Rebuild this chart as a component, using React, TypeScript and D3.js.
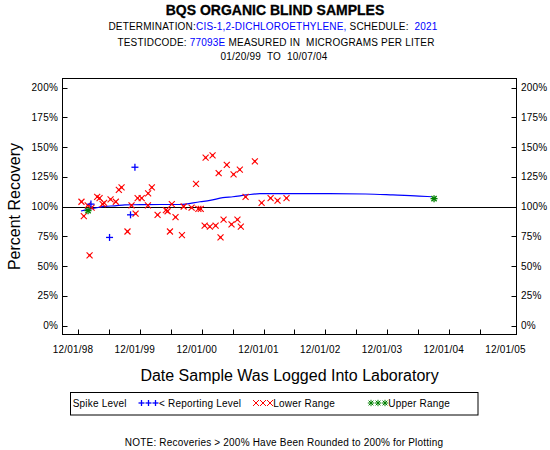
import React from "react";
import * as d3 from "d3";

const redDates = ["1999-01-20","1999-02-03","1999-02-26","1999-03-21","1999-03-09","1999-04-23","1999-05-07","1999-05-25","1999-06-03","1999-07-11","1999-08-11","1999-08-29","1999-09-14","1999-10-19","1999-11-12","1999-12-06","1999-12-18","2000-01-11","2000-02-18","2000-03-11","2000-02-17","2000-04-14","2000-06-02","2000-06-12","2000-06-26","2000-07-07","2000-07-29","2000-09-05","2000-09-15","2000-11-01","2000-11-27","2000-12-11","2000-12-25","2001-01-23","2001-03-05","2001-04-10","2001-05-28","2001-07-07","2001-08-13","2001-11-10","2001-01-17","2001-02-17","2001-03-23","2001-04-21","2001-05-09","2001-06-25","2001-07-30","2001-08-19","2001-09-16","2001-12-20","2002-02-11","2002-03-24","2002-05-16"];
const redValues = [104,92,101,99,59,108,107,102,103,106,104,114,116,79,101,94,107,107,111,116,101,93,97,96,79,102,91,76,100,99,119,98,98,141,143,128,135,127,131,138,84,83,84,74,89,85,89,83,108,103,107,105,107];

const blueDates = ["1999-03-17","1999-07-05","1999-11-06","1999-12-02"];
const blueValues = [102,74,93,133];

const greenDates = ["1999-02-28","2004-10-04"];
const greenValues = [96.5,106.6];

const lineDates = ["1999-01-17","1999-03-31","1999-06-08","1999-08-06","1999-10-04","2000-01-01","2000-04-28","2000-08-24","2000-12-21","2001-02-18","2001-05-05","2001-07-03","2001-09-22","2001-12-10","2002-08-03","2003-01-27","2003-08-26","2004-02-04","2004-07-07","2004-09-20"];
const lineValues = [96.2,98.4,100.1,100.6,101.4,101.5,101.7,101.7,104.0,105.1,107.4,108.2,109.7,110.8,110.8,110.8,110.5,109.7,108.8,108.2];

const yTicks = [0,25,50,75,100,125,150,175,200];
const xLabelYears = [1998,1999,2000,2001,2002,2003,2004,2005];

const FONT = "'Liberation Sans', Arial, sans-serif";
const BLUE = "#0000ff";
const RED = "#ff0000";
const GREEN = "#008000";

const parse = d3.timeParse("%Y-%m-%d");
const fmt = d3.timeFormat("%m/%d/%y");

const L = 62.5, R = 516.5, T = 78.5, B = 334.5;

const x = d3.scaleTime().domain([new Date(1998, 11, 1), new Date(2005, 11, 1)]).range([73, 505.6]);
const y = d3.scaleLinear().domain([0, 200]).range([325.5, 87.5]);

function XMark({ cx, cy, s = 3 }: any) {
  return (
    <g stroke={RED} strokeWidth={1.1}>
      <line x1={cx - s} y1={cy - s} x2={cx + s} y2={cy + s} />
      <line x1={cx - s} y1={cy + s} x2={cx + s} y2={cy - s} />
      <rect x={cx - 1} y={cy - 1} width={2} height={2} fill={RED} stroke="none" />
    </g>
  );
}
function PlusMark({ cx, cy, s = 3.5, color = BLUE }: any) {
  return (
    <g stroke={color} strokeWidth={1.3}>
      <line x1={cx - s} y1={cy} x2={cx + s} y2={cy} />
      <line x1={cx} y1={cy - s} x2={cx} y2={cy + s} />
    </g>
  );
}
function StarMark({ cx, cy, s = 3.5, w = 1.3 }: any) {
  const d = s * 0.75;
  return (
    <g stroke={GREEN} strokeWidth={w}>
      <line x1={cx - s} y1={cy} x2={cx + s} y2={cy} />
      <line x1={cx} y1={cy - s} x2={cx} y2={cy + s} />
      <line x1={cx - d} y1={cy - d} x2={cx + d} y2={cy + d} />
      <line x1={cx - d} y1={cy + d} x2={cx + d} y2={cy - d} />
    </g>
  );
}

export default function App() {
  const lineData = lineDates.map((d, i) => ({ d: parse(d)!, v: lineValues[i] }));
  const line = d3.line<any>().x((p) => x(p.d)).y((p) => y(p.v)).curve(d3.curveMonotoneX);
  const xTicks = d3.timeMonth.every(6)!.range(new Date(1998, 11, 1), new Date(2005, 11, 2));
  const txt: any = { fontFamily: FONT, fontSize: 10, letterSpacing: 0.2 };

  return (
    <svg width={550} height={450} style={{ position: "absolute", left: 0, top: 0, background: "#fff" }}>
      <text x={275} y={15} textAnchor="middle" fontFamily={FONT} fontSize={14} fontWeight="bold" stroke="#000" strokeWidth={0.3}>BQS ORGANIC BLIND SAMPLES</text>
      <text x={273} y={30} textAnchor="middle" {...txt}>
        DETERMINATION:<tspan fill={BLUE}>CIS-1,2-DICHLOROETHYLENE,</tspan> SCHEDULE:{"\u00a0\u00a0"}<tspan fill={BLUE}>2021</tspan>
      </text>
      <text x={276} y={45.5} textAnchor="middle" {...txt}>
        TESTIDCODE: <tspan fill={BLUE}>77093E</tspan> MEASURED IN{"\u00a0\u00a0"}MICROGRAMS PER LITER
      </text>
      <text x={274} y={59.5} textAnchor="middle" {...txt}>01/20/99{"\u00a0\u00a0"}TO{"\u00a0\u00a0"}10/07/04</text>

      <rect x={L} y={T} width={R - L} height={B - T} fill="none" stroke="#000" strokeWidth={1} />

      {yTicks.map((t) => (
        <g key={t}>
          <line x1={L} x2={L + 5} y1={Math.round(y(t)) + 0.5} y2={Math.round(y(t)) + 0.5} stroke="#000" />
          <line x1={R - 5} x2={R} y1={Math.round(y(t)) + 0.5} y2={Math.round(y(t)) + 0.5} stroke="#000" />
          <text x={58} y={y(t) + 3.5} textAnchor="end" {...txt}>{t}%</text>
          <text x={521} y={y(t) + 3.5} textAnchor="start" {...txt}>{t}%</text>
        </g>
      ))}

      {xTicks.map((d, i) => (
        <line key={i} x1={Math.round(x(d)) + 0.5} x2={Math.round(x(d)) + 0.5} y1={B - 5} y2={B} stroke="#000" />
      ))}
      {xLabelYears.map((yr) => {
        const d = new Date(yr, 11, 1);
        return <text key={yr} x={x(d)} y={352.5} textAnchor="middle" {...txt}>{fmt(d)}</text>;
      })}

      <line x1={L} x2={R} y1={Math.round(y(100)) + 0.5} y2={Math.round(y(100)) + 0.5} stroke="#000" strokeWidth={1.2} />

      <path d={line(lineData) || ""} fill="none" stroke={BLUE} strokeWidth={1.2} />

      {redDates.map((d, i) => (
        <XMark key={"r" + i} cx={x(parse(d)!)} cy={y(redValues[i])} />
      ))}
      {blueDates.map((d, i) => (
        <PlusMark key={"b" + i} cx={x(parse(d)!)} cy={y(blueValues[i])} />
      ))}
      {greenDates.map((d, i) => (
        <StarMark key={"g" + i} cx={x(parse(d)!)} cy={y(greenValues[i])} />
      ))}

      <text transform={`translate(20,${(T + B) / 2}) rotate(-90)`} textAnchor="middle" fontFamily={FONT} fontSize={16}>Percent Recovery</text>
      <text x={(L + R) / 2} y={381} textAnchor="middle" fontFamily={FONT} fontSize={16}>Date Sample Was Logged Into Laboratory</text>

      <rect x={70.5} y={392.5} width={407.5} height={22.5} fill="none" stroke="#000" strokeWidth={1} />
      <text x={72.7} y={406.5} {...txt}>Spike Level</text>
      {[141.5, 148.5, 155.5].map((cx) => <PlusMark key={"lb" + cx} cx={cx} cy={403} s={3} />)}
      <text x={159} y={406.5} {...txt}>&lt; Reporting Level</text>
      {[256, 263, 270].map((cx) => (
        <g key={"lr" + cx} stroke={RED} strokeWidth={1}>
          <line x1={cx - 3} y1={400} x2={cx + 3} y2={406} />
          <line x1={cx - 3} y1={406} x2={cx + 3} y2={400} />
        </g>
      ))}
      <text x={273.3} y={406.5} {...txt}>Lower Range</text>
      {[371, 378, 385].map((cx) => <StarMark key={"lg" + cx} cx={cx} cy={403} s={3.2} w={1} />)}
      <text x={388.3} y={406.5} {...txt}>Upper Range</text>

      <text x={284} y={446} textAnchor="middle" {...txt}>NOTE: Recoveries &gt; 200% Have Been Rounded to 200% for Plotting</text>
    </svg>
  );
}
